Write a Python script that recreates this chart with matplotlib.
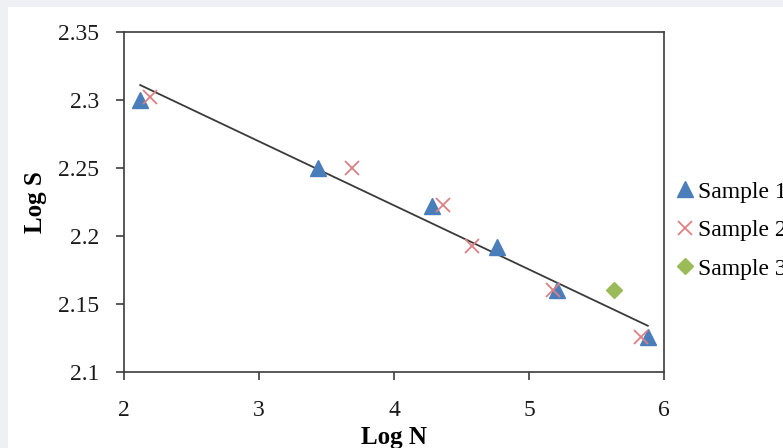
import matplotlib
matplotlib.use("Agg")
import matplotlib.pyplot as plt
from matplotlib.patches import Rectangle

# Data
s1_x = [2.12, 3.44, 4.28, 4.76, 5.21, 5.88]
s1_y = [2.300, 2.250, 2.222, 2.192, 2.160, 2.126]
s2_x = [2.19, 3.69, 4.36, 4.58, 5.18, 5.83]
s2_y = [2.302, 2.250, 2.223, 2.193, 2.160, 2.126]
s3_x = [5.63]
s3_y = [2.160]
trend_x = [2.12, 5.88]
trend_y = [2.311, 2.134]
x_ticks = [2, 3, 4, 5, 6]
y_ticks = [2.1, 2.15, 2.2, 2.25, 2.3, 2.35]
y_tick_labels = ["2.1", "2.15", "2.2", "2.25", "2.3", "2.35"]
labels = ["Sample 1", "Sample 2", "Sample 3"]

plt.rcParams["font.family"] = ["Liberation Serif", "DejaVu Serif"]

fig = plt.figure(figsize=(7.83, 4.48), dpi=100, facecolor="#eef0f3")
fig.patches.append(Rectangle((8 / 783, 0), 1, 1 - 7 / 448, transform=fig.transFigure,
                             facecolor="white", edgecolor="none", zorder=-1))

ax = fig.add_axes([124 / 783, 1 - 372 / 448, 540 / 783, 340 / 448])
ax.set_facecolor("white")

spine_c = "#3c3c3c"
ax.plot(trend_x, trend_y, color="#3a3a3a", lw=1.3, zorder=2)
h1, = ax.plot(s1_x, s1_y, ls="none", marker="^", ms=11, color="#4a7ebb", mec="#4a7ebb", zorder=3)
h2, = ax.plot(s2_x, s2_y, ls="none", marker="x", ms=10, mew=1.3, color="#e07f82", zorder=4)
h3, = ax.plot(s3_x, s3_y, ls="none", marker="D", ms=8, color="#9bbb59", zorder=3)

ax.set_xlim(2, 6)
ax.set_ylim(2.1, 2.35)
ax.set_xticks(x_ticks)
ax.set_yticks(y_ticks)
ax.set_yticklabels(y_tick_labels)
for s in ax.spines.values():
    s.set_color(spine_c)
    s.set_linewidth(1.2)
ax.tick_params(axis="both", direction="out", length=6, width=1.2, color=spine_c,
               labelsize=17, labelcolor="#1a1a1a")
ax.tick_params(axis="x", pad=14)
ax.tick_params(axis="y", pad=12)

ax.set_xlabel("Log N", fontsize=18, fontweight="bold", labelpad=4)
ax.set_ylabel("Log S", fontsize=18, fontweight="bold", labelpad=8)

fig.legend([h1, h2, h3], labels, loc="upper left", bbox_to_anchor=(676 / 783, 1 - 181 / 448),
           frameon=False, fontsize=17, handlelength=0.8, handletextpad=0.15,
           labelspacing=0.72, borderaxespad=0, borderpad=0)

fig.savefig("out.png", dpi=100, facecolor=fig.get_facecolor())
